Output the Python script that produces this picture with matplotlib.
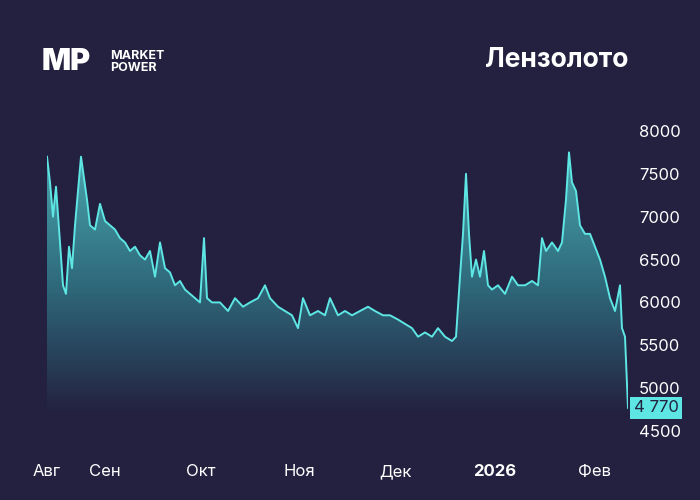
import matplotlib
matplotlib.use("Agg")
import matplotlib.pyplot as plt
import numpy as np
import pandas as pd
from matplotlib.patches import Polygon
from matplotlib.colors import LinearSegmentedColormap

# pixel-read checkpoints converted to day offsets from 2025-08-14
xs_px = [47,50,53,56,60,63,66,69,72,75,78,81,84,87,90,95,100,105,110,115,120,125,130,135,140,145,150,155,160,165,170,175,180,185,190,195,200,204,207,212,220,228,235,243,250,258,265,270,278,285,292,298,303,310,318,325,330,338,345,352,360,368,375,383,390,398,405,412,418,425,432,438,445,452,456,460,463,466,469,472,476,480,484,488,492,498,505,512,518,525,532,538,542,546,552,558,562,566,569,572,576,580,585,590,595,600,605,610,615,620,622,625,628]
values = [7700,7400,7000,7350,6700,6200,6100,6650,6400,6900,7300,7700,7450,7200,6900,6850,7150,6950,6900,6850,6750,6700,6600,6650,6550,6500,6600,6300,6700,6400,6350,6200,6250,6150,6100,6050,6000,6750,6050,6000,6000,5900,6050,5950,6000,6050,6200,6050,5950,5900,5850,5700,6050,5850,5900,5850,6050,5850,5900,5850,5900,5950,5900,5850,5850,5800,5750,5700,5600,5650,5600,5700,5600,5550,5600,6300,6800,7500,6800,6300,6500,6300,6600,6200,6150,6200,6100,6300,6200,6200,6250,6200,6750,6600,6700,6600,6700,7200,7750,7400,7300,6900,6800,6800,6650,6500,6300,6050,5900,6200,5700,5600,4770]
days = [(p - 47) / 3.2 for p in xs_px]
start = pd.Timestamp("2025-08-14")
dates = [start + pd.Timedelta(days=d) for d in days]
month_labels = ["Авг", "Сен", "Окт", "Ноя", "Дек", "2026", "Фев"]
month_dates = ["2025-08-14", "2025-09-01", "2025-10-01", "2025-11-01", "2025-12-01", "2026-01-01", "2026-02-01"]
yticks = [4500, 5000, 5500, 6000, 6500, 7000, 7500, 8000]
last_label = "4 770"

BG = "#23213f"
LINE = "#5de6e4"
plt.rcParams["font.family"] = ["Inter", "DejaVu Sans"]

fig = plt.figure(figsize=(7, 5), dpi=100, facecolor=BG)
ax = fig.add_axes([47/700, 1-445/500, (628-47)/700, 325/500])
ax.set_facecolor(BG)
x = matplotlib.dates.date2num(dates)
ax.set_xlim(x[0], x[-1])
ax.set_ylim(4337, 8128)
base = 4700

grad = np.linspace(0, 1, 256).reshape(-1, 1)
cmap = LinearSegmentedColormap.from_list("g", [BG, "#2f6a7c", "#4aa7ae"])
im = ax.imshow(grad, extent=[x[0], x[-1], base, max(values)], origin="lower",
               aspect="auto", cmap=cmap, zorder=1)
poly = Polygon(np.column_stack([np.r_[x[0], x, x[-1]], np.r_[base, values, base]]),
               closed=True, transform=ax.transData, facecolor="none", edgecolor="none")
ax.add_patch(poly)
im.set_clip_path(poly)
ax.plot(x, values, color=LINE, lw=1.4, zorder=3)

for s in ax.spines.values():
    s.set_visible(False)
ax.yaxis.tick_right()
ax.set_yticks(yticks)
ax.set_yticklabels([str(v) for v in yticks], color="white", fontsize=12)
ax.tick_params(axis="y", length=0, pad=8)
mx = matplotlib.dates.date2num(pd.to_datetime(month_dates))
ax.set_xticks(mx)
ax.set_xticklabels(month_labels, color="white", fontsize=12)
for t in ax.get_xticklabels():
    if t.get_text() == "2026":
        t.set_fontweight("bold")
ax.tick_params(axis="x", length=0, pad=14)

ax.text(1.01, values[-1], last_label, transform=ax.get_yaxis_transform(), va="center", ha="left",
        fontsize=12, color=BG, bbox=dict(boxstyle="square,pad=0.2", fc=LINE, ec="none"))

fig.text(628/700, 1-60/500, "Лензолото", color="white", fontsize=19, fontweight="bold", ha="right", va="center")
fig.text(42/700, 1-62/500, "MP", color="white", fontsize=22, fontweight="black", ha="left", va="center")
fig.text(110/700, 1-62/500, "MARKET\nPOWER", color="white", fontsize=9, fontweight="bold", ha="left", va="center", linespacing=0.95)

fig.savefig("out.png", facecolor=BG)
